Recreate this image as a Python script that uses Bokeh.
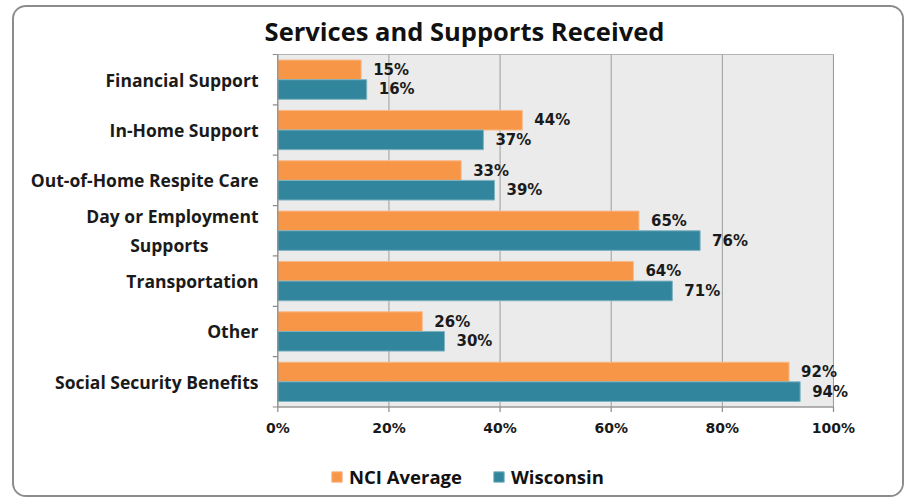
import math
from bokeh.plotting import figure
from bokeh.models import (ColumnDataSource, LabelSet, Label, Legend, LegendItem,
                          FixedTicker)
from bokeh.core.properties import value
from bokeh.embed import file_html
from bokeh.resources import INLINE

categories = ["Financial Support", "In-Home Support", "Out-of-Home Respite Care",
              "Day or Employment\nSupports" + "\u00A0" * 11, "Transportation", "Other",
              "Social Security Benefits"]
nci_average = [15, 44, 33, 65, 64, 26, 92]
wisconsin = [16, 37, 39, 76, 71, 30, 94]
x_ticks = [0, 20, 40, 60, 80, 100]
x_tick_labels = [f"{t}%" for t in x_ticks]

ORANGE = "#F79646"
TEAL = "#31859C"
AXIS = "#8C8C8C"

n = len(categories)
centers = [n - i - 0.5 for i in range(n)]
half = 0.195

src_nci = ColumnDataSource(dict(y=[c + half for c in centers], v=nci_average,
                                lab=[f"{v}%" for v in nci_average]))
src_wi = ColumnDataSource(dict(y=[c - half for c in centers], v=wisconsin,
                               lab=[f"{v}%" for v in wisconsin]))

# layout: frame spans page x 260..906, y 7..499; 0% at x=277.3, 100% at 833
W, H = 892, 492
p = figure(width=W, height=H, x_range=(-3.113, 113.14), y_range=(-1.8369, 7.9333),
           output_backend="svg", toolbar_location=None, x_axis_location=None,
           min_border_left=246, min_border_right=0, min_border_top=0,
           min_border_bottom=0,
           background_fill_color="white", border_fill_color="white",
           styles={"border": "2px solid #8C8C8C", "border-radius": "14px",
                   "overflow": "hidden", "margin-left": "12px",
                   "margin-top": "5px"})
p.title.visible = False
p.outline_line_color = None
p.xgrid.visible = False
p.ygrid.visible = False

# plot area background (0..100%)
p.quad(left=x_ticks[0], right=x_ticks[-1], bottom=0, top=n,
       fill_color="#EBEBEB", line_color="#B4B4B4", line_width=1)
# vertical gridlines
p.segment(x0=x_ticks[1:], y0=[0] * (len(x_ticks) - 1),
          x1=x_ticks[1:], y1=[n] * (len(x_ticks) - 1),
          line_color="#9C9C9C", line_width=1)

r1 = p.hbar(y="y", right="v", left=0, height=0.39, source=src_nci,
            fill_color=ORANGE, line_color="#F9B98A", line_width=1)
r2 = p.hbar(y="y", right="v", left=0, height=0.39, source=src_wi,
            fill_color=TEAL, line_color="#7FB3C2", line_width=1)

# axis lines and tick marks
p.segment(x0=[x_ticks[0], x_ticks[0]], y0=[0, 0], x1=[x_ticks[-1], x_ticks[0]],
          y1=[0, n], line_color=AXIS, line_width=1.2)
p.ray(x=[x_ticks[0]] * (n + 1), y=list(range(n + 1)), length=5,
      length_units="screen", angle=math.pi, line_color=AXIS, line_width=1.2)
p.ray(x=x_ticks, y=[0] * len(x_ticks), length=5, length_units="screen",
      angle=-math.pi / 2, line_color=AXIS, line_width=1.2)
p.text(x=x_ticks, y=[0] * len(x_ticks), text=x_tick_labels, y_offset=13,
       text_align="center", text_baseline="top",
       text_font=value("DejaVu Sans"), text_font_style="bold",
       text_font_size="14px", text_color="#1a1a1a")

for s in (src_nci, src_wi):
    p.add_layout(LabelSet(x="v", y="y", text="lab", source=s, x_offset=12,
                          text_baseline="middle", text_align="left",
                          text_font=value("DejaVu Sans"),
                          text_font_style="bold",
                          text_font_size="15px", text_color="#1a1a1a"))

# category axis (labels only)
p.yaxis.ticker = FixedTicker(ticks=centers)
p.yaxis.major_label_overrides = {c: categories[i] for i, c in enumerate(centers)}
p.yaxis.major_label_text_font = "Open Sans"
p.yaxis.major_label_text_font_style = "bold"
p.yaxis.major_label_text_font_size = "17.5px"
p.yaxis.major_label_text_color = "#1a1a1a"
p.yaxis.major_tick_line_color = None
p.yaxis.minor_tick_line_color = None
p.yaxis.major_tick_out = 0
p.yaxis.major_tick_in = 0
p.yaxis.axis_line_color = None
p.yaxis.major_label_standoff = 2

# title
p.add_layout(Label(x=204, y=469, x_units="screen", y_units="screen",
                   text="Services and Supports Received", text_align="center",
                   text_baseline="alphabetic", text_font="Open Sans",
                   text_font_style="bold", text_font_size="25.5px",
                   text_color="#111111"))

legend = Legend(items=[LegendItem(label="NCI Average", renderers=[r1]),
                       LegendItem(label="Wisconsin", renderers=[r2])],
                location=(70, 10), orientation="horizontal",
                border_line_color=None, background_fill_alpha=0,
                padding=0, margin=0, spacing=30, label_standoff=6,
                glyph_width=13, glyph_height=13,
                label_text_font="Open Sans", label_text_font_style="bold",
                label_text_font_size="18.5px", label_text_color="#111111")
p.add_layout(legend, "center")

open("out.html", "w").write(file_html(p, INLINE))
